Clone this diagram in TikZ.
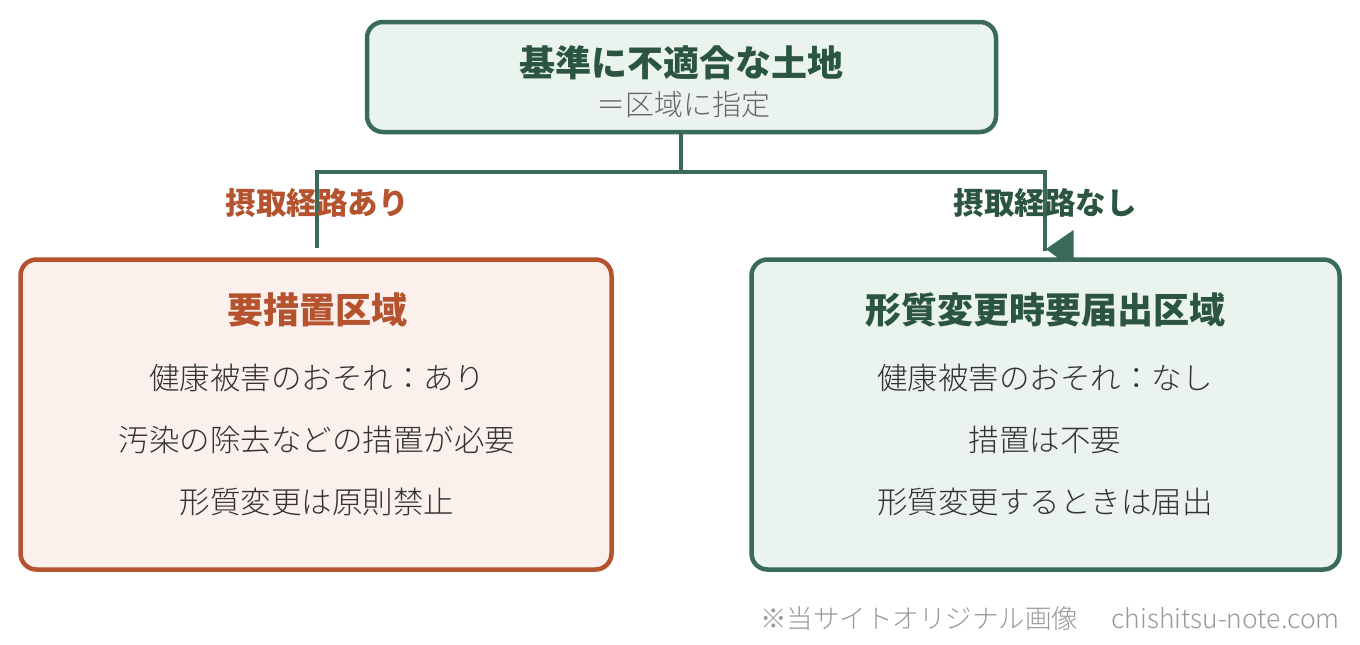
\documentclass[tikz,border=0pt]{standalone}
\usepackage{fontspec}
\setmainfont{Noto Sans CJK JP}
\newfontfamily\jplight{Noto Sans CJK JP}[UprightFont=* Light]
\definecolor{gstroke}{HTML}{3A6B58}
\definecolor{gtext}{HTML}{2B5541}
\definecolor{gfill}{HTML}{EAF3EE}
\definecolor{ostroke}{HTML}{B5532F}
\definecolor{ofill}{HTML}{FBF0EB}
\definecolor{bodytext}{HTML}{333333}
\definecolor{subtext}{HTML}{666666}
\definecolor{foottext}{HTML}{9A9A9A}
\tikzset{
  box/.style={rectangle, rounded corners=16pt, line width=4.5pt, inner sep=0pt, outer sep=0pt, anchor=north west},
  gbox/.style={box, draw=gstroke, fill=gfill},
  obox/.style={box, draw=ostroke, fill=ofill},
  conn/.style={draw=gstroke, line width=4pt},
  txt/.style={anchor=base, inner sep=0pt},
  bigt/.style={txt, font=\fontsize{36}{40}\selectfont\bfseries},
  lab/.style={txt, font=\fontsize{30.5}{34}\selectfont\bfseries},
  body/.style={txt, text=bodytext, font=\jplight\fontsize{30.5}{34}\selectfont},
}
\begin{document}
\begin{tikzpicture}[x=1pt,y=-1pt]
\useasboundingbox[fill=white] (0,0) rectangle (1360,645);
% boxes
\node[gbox, minimum width=629pt, minimum height=110pt] (top) at (367,22) {};
\node[obox, minimum width=591pt, minimum height=310pt] (left) at (20.5,259.5) {};
\node[gbox, minimum width=588pt, minimum height=310pt] (right) at (751.5,259.5) {};
% connectors
\coordinate (j) at (681,172);
\coordinate (lend) at (317,248);
\coordinate (rend) at (1045,251);
\draw[conn] (j |- top.south) -- (j);
\draw[conn] (j) -| (lend);
\draw[conn] (j) -| (rend);
\fill[gstroke] (1046,249) -- (1073.5,230) -- (1073.5,258) -- (1058,258) -- cycle;
% top texts
\node[bigt, text=gtext] (t1) at (681,76) {基準に不適合な土地};
\node[txt, text=subtext, font=\jplight\fontsize{29}{33}\selectfont] (t2) at (683,115) {＝区域に指定};
% labels
\node[lab, text=ostroke] (la) at (317,214) {摂取経路あり};
\node[lab, text=gtext] (lb) at (1045,214) {摂取経路なし};
% left box texts
\node[bigt, text=ostroke] (lt) at (317,323) {要措置区域};
\node[body] (l1) at (317,389) {健康被害のおそれ：あり};
\node[body] (l2) at (317,451) {汚染の除去などの措置が必要};
\node[body] (l3) at (317,513) {形質変更は原則禁止};
% right box texts
\node[bigt, text=gtext] (rt) at (1045,323) {形質変更時要届出区域};
\node[body] (r1) at (1045,389) {健康被害のおそれ：なし};
\node[body] (r2) at (1045,451) {措置は不要};
\node[body] (r3) at (1045,513) {形質変更するときは届出};
% footer
\node[txt, anchor=base east, text=foottext, font=\jplight\fontsize{26.5}{30}\selectfont] (ft) at (1340,628) {※当サイトオリジナル画像\hspace{33pt}chishitsu-note.com};
\end{tikzpicture}
\end{document}
